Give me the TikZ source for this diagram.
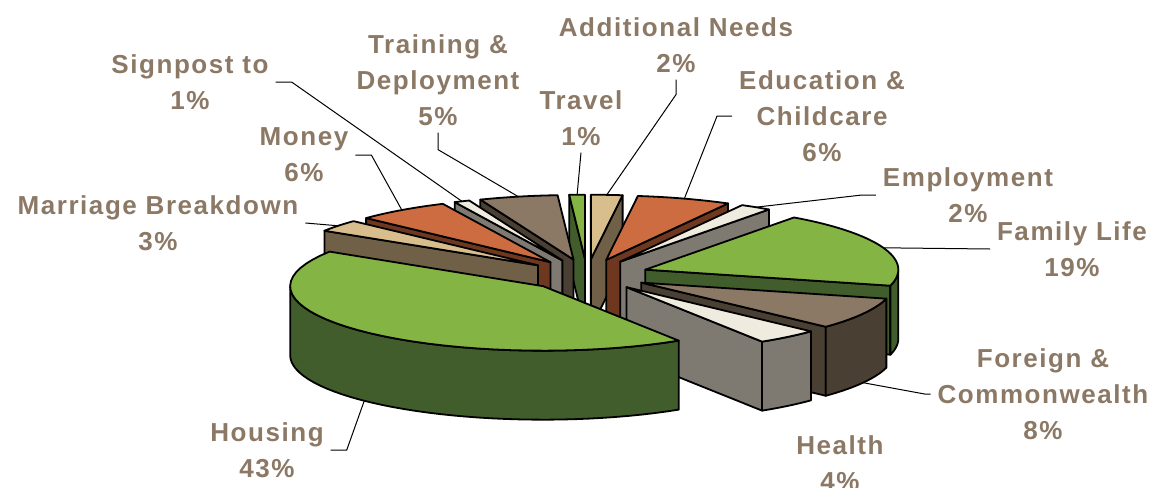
\documentclass[tikz,border=0pt]{standalone}
\usepackage{fontspec}
\setmainfont{Liberation Sans}[LetterSpace=6]
\definecolor{piebeige}{RGB}{216,190,140}
\definecolor{piebeigeside}{RGB}{111,96,71}
\definecolor{pieorange}{RGB}{204,108,64}
\definecolor{pieorangeside}{RGB}{110,56,32}
\definecolor{piecream}{RGB}{240,235,223}
\definecolor{piegrey}{RGB}{126,122,114}
\definecolor{piegreen}{RGB}{132,180,67}
\definecolor{piegreenside}{RGB}{65,93,43}
\definecolor{pietaupe}{RGB}{139,120,101}
\definecolor{pietaupeside}{RGB}{74,63,51}
\definecolor{pietext}{RGB}{139,120,101}

\tikzset{
  slice/.style={draw=black,line width=0.9pt,line join=round},
  lbl/.style={text=pietext,font=\bfseries\fontsize{13}{18}\selectfont,align=center},
  leader/.style={draw=black,line width=0.5pt}
}

% pie geometry in pixels: centre, radii, height, explosion
\def\pcx{587}\def\pcy{275}\def\prx{253}\def\pry{64.5}\def\ph{69}\def\pexp{62}

\newcommand{\pieslice}[5]{% name, start, end, top colour, side colour
  \pgfmathsetmacro\pmid{(#2+#3)/2}
  \pgfmathsetmacro\pax{\pcx+\pexp*sin(\pmid)}
  \pgfmathsetmacro\pay{\pcy-\pexp*\pry/\prx*cos(\pmid)}
  \coordinate (#1-rim) at ({\pax+\prx*sin(\pmid)},{\pay-\pry*cos(\pmid)});
  \coordinate (#1-foot) at ({\pax+\prx*sin(\pmid)},{\pay-\pry*cos(\pmid)+\ph});
  \pgfmathsetmacro\psin{sin(#2)}
  \ifdim\psin pt<-0.01pt
    \fill[slice,fill=#5] (\pax,\pay) -- ++({\prx*sin(#2)},{-\pry*cos(#2)}) -- ++(0,\ph) -- (\pax,{\pay+\ph}) -- cycle;
  \fi
  \pgfmathsetmacro\psin{sin(#3)}
  \ifdim\psin pt>0.01pt
    \fill[slice,fill=#5] (\pax,\pay) -- ++({\prx*sin(#3)},{-\pry*cos(#3)}) -- ++(0,\ph) -- (\pax,{\pay+\ph}) -- cycle;
  \fi
  \pgfmathsetmacro\pfrom{max(#2,90)}
  \pgfmathsetmacro\pto{min(#3,270)}
  \ifdim\pfrom pt<\pto pt
    \fill[slice,fill=#5] plot[domain=\pfrom:\pto,samples=40] ({\pax+\prx*sin(\x)},{\pay-\pry*cos(\x)})
      -- plot[domain=\pto:\pfrom,samples=40] ({\pax+\prx*sin(\x)},{\pay-\pry*cos(\x)+\ph}) -- cycle;
  \fi
  \fill[slice,fill=#4] (\pax,\pay) -- plot[domain=#2:#3,samples=40] ({\pax+\prx*sin(\x)},{\pay-\pry*cos(\x)}) -- cycle;
}

\begin{document}
\begin{tikzpicture}[x=0.5pt,y=-0.5pt]
\useasboundingbox (0,0) rectangle (1153,488);
% back to front
\pieslice{travel}{356.4}{360}{piegreen}{piegreenside}
\pieslice{addneeds}{0}{7.2}{piebeige}{piebeigeside}
\pieslice{training}{338.4}{356.4}{pietaupe}{pietaupeside}
\pieslice{edu}{7.2}{28.8}{pieorange}{pieorangeside}
\pieslice{signpost}{334.8}{338.4}{piecream}{piegrey}
\pieslice{employ}{28.8}{36}{piecream}{piegrey}
\pieslice{money}{313.2}{334.8}{pieorange}{pieorangeside}
\pieslice{marriage}{302.4}{313.2}{piebeige}{piebeigeside}
\pieslice{family}{36}{104.4}{piegreen}{piegreenside}
\pieslice{foreign}{104.4}{133.2}{pietaupe}{pietaupeside}
\pieslice{health}{133.2}{147.6}{piecream}{piegrey}
\pieslice{housing}{147.6}{302.4}{piegreen}{piegreenside}

\node[lbl] (signpostlbl) at (190,82) {Signpost to\\1\%};
\node[lbl] (traininglbl) at (438,80) {Training \&\\Deployment\\5\%};
\node[lbl] (moneylbl) at (304,155) {Money\\6\%};
\node[lbl] (marriagelbl) at (158,223) {Marriage Breakdown\\3\%};
\node[lbl] (travellbl) at (581,118) {Travel\\1\%};
\node[lbl] (addneedslbl) at (676,45) {Additional Needs\\2\%};
\node[lbl] (edulbl) at (822,116) {Education \&\\Childcare\\6\%};
\node[lbl] (employlbl) at (968,195) {Employment\\2\%};
\node[lbl] (familylbl) at (1072,249) {Family Life\\19\%};
\node[lbl] (foreignlbl) at (1043,394) {Foreign \&\\Commonwealth\\8\%};
\node[lbl] (healthlbl) at (840,463) {Health\\4\%};
\node[lbl] (housinglbl) at (267,450) {Housing\\43\%};

\draw[leader] (signpostlbl.east) -- ++(16,0) -- (signpost-rim);
\draw[leader] (traininglbl.south) -- ++(0,17) -- (training-rim);
\draw[leader] (moneylbl.east) -- ++(16,0) -- (money-rim);
\draw[leader] (marriagelbl.east) -- (marriage-rim);
\draw[leader] (travellbl.south) -- (travel-rim);
\draw[leader] (addneedslbl.south) -- ++(0,15) -- (addneeds-rim);
\draw[leader] (edulbl.west) -- ++(-15,0) -- (edu-rim);
\draw[leader] (employlbl.west) -- ++(-14,0) -- (employ-rim);
\draw[leader] (familylbl.west) -- (family-rim);
\draw[leader] (foreignlbl.west) -- ++(-6,0) -- (foreign-foot);
\draw[leader] (housinglbl.east) -- ++(16,0) -- (housing-foot);
\end{tikzpicture}
\end{document}
